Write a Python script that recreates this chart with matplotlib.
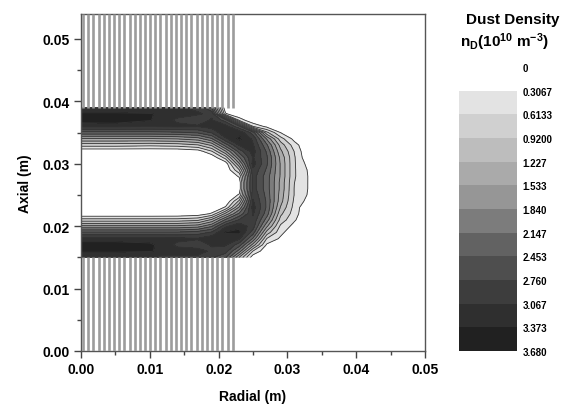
import numpy as np
import matplotlib.pyplot as plt
from matplotlib.colors import ListedColormap, BoundaryNorm

plt.rcParams['font.family'] = 'Liberation Sans'
plt.rcParams['font.weight'] = 'bold'
plt.rcParams['mathtext.fontset'] = 'custom'
plt.rcParams['mathtext.rm'] = 'Liberation Sans:bold'
plt.rcParams['mathtext.default'] = 'rm'

# grid (m)
radial = [0.000, 0.005, 0.010, 0.014, 0.017, 0.019, 0.021, 0.023, 0.025, 0.027, 0.029, 0.031, 0.033, 0.035]
axial = [0.015, 0.016, 0.017, 0.018, 0.019, 0.020, 0.021, 0.022, 0.023, 0.024, 0.025, 0.026,
         0.027, 0.028, 0.029, 0.030, 0.031, 0.032, 0.033, 0.034, 0.035, 0.036, 0.037, 0.038, 0.039]

# dust density (1e10 m^-3), one row per axial value
density = [
    [3.00, 3.00, 3.00, 3.00, 3.00, 2.80, 2.50, 1.20, 0.10, 0.00, 0.00, 0.00, 0.00, 0.0],
    [3.45, 3.45, 3.40, 3.20, 3.20, 3.00, 2.90, 2.00, 0.60, 0.05, 0.00, 0.00, 0.00, 0.0],
    [3.55, 3.55, 3.45, 3.00, 2.90, 3.10, 3.10, 2.60, 1.40, 0.25, 0.05, 0.00, 0.00, 0.0],
    [3.20, 3.20, 3.20, 3.15, 3.10, 3.30, 3.25, 3.10, 2.10, 0.60, 0.25, 0.00, 0.00, 0.0],
    [2.50, 2.50, 2.50, 2.50, 2.60, 2.80, 3.40, 3.45, 2.60, 1.10, 0.40, 0.05, 0.00, 0.0],
    [1.60, 1.60, 1.60, 1.60, 1.70, 2.10, 3.00, 3.30, 2.90, 1.60, 0.55, 0.20, 0.00, 0.0],
    [0.75, 0.75, 0.75, 0.75, 0.85, 1.30, 2.20, 2.80, 3.00, 2.00, 0.80, 0.35, 0.00, 0.0],
    [0.00, 0.00, 0.00, 0.02, 0.10, 0.35, 1.30, 2.20, 3.10, 2.30, 1.00, 0.45, 0.00, 0.0],
    [0.00, 0.00, 0.00, 0.00, 0.00, 0.00, 0.35, 1.60, 3.20, 2.40, 1.20, 0.50, 0.00, 0.0],
    [0.00, 0.00, 0.00, 0.00, 0.00, 0.00, 0.00, 1.00, 3.10, 2.40, 1.35, 0.55, 0.20, 0.0],
    [0.00, 0.00, 0.00, 0.00, 0.00, 0.00, 0.00, 0.35, 3.00, 2.35, 1.40, 0.60, 0.28, 0.0],
    [0.00, 0.00, 0.00, 0.00, 0.00, 0.00, 0.00, 0.10, 2.90, 2.30, 1.45, 0.60, 0.30, 0.0],
    [0.00, 0.00, 0.00, 0.00, 0.00, 0.00, 0.00, 0.10, 2.90, 2.30, 1.45, 0.62, 0.30, 0.0],
    [0.00, 0.00, 0.00, 0.00, 0.00, 0.00, 0.00, 0.35, 2.90, 2.30, 1.50, 0.65, 0.30, 0.0],
    [0.00, 0.00, 0.00, 0.00, 0.00, 0.00, 0.00, 0.90, 3.00, 2.40, 1.50, 0.65, 0.28, 0.0],
    [0.00, 0.00, 0.00, 0.00, 0.00, 0.00, 0.10, 1.50, 3.20, 2.50, 1.50, 0.65, 0.20, 0.0],
    [0.00, 0.00, 0.00, 0.00, 0.00, 0.05, 0.75, 2.10, 3.10, 2.50, 1.45, 0.65, 0.05, 0.0],
    [0.05, 0.05, 0.05, 0.05, 0.15, 0.60, 1.50, 2.60, 3.20, 2.40, 1.30, 0.60, 0.00, 0.0],
    [0.75, 0.75, 0.70, 0.75, 0.90, 1.30, 2.30, 3.10, 3.10, 2.20, 1.10, 0.45, 0.00, 0.0],
    [1.50, 1.50, 1.50, 1.55, 1.70, 2.10, 3.00, 3.45, 3.00, 1.80, 0.75, 0.20, 0.00, 0.0],
    [2.35, 2.35, 2.35, 2.40, 2.50, 2.80, 3.35, 3.30, 2.60, 1.00, 0.30, 0.00, 0.00, 0.0],
    [3.15, 3.15, 3.10, 3.15, 3.10, 3.20, 3.20, 2.50, 0.60, 0.20, 0.00, 0.00, 0.00, 0.0],
    [3.55, 3.60, 3.40, 3.00, 2.90, 3.10, 2.60, 0.50, 0.00, 0.00, 0.00, 0.00, 0.00, 0.0],
    [3.45, 3.45, 3.40, 3.20, 3.10, 3.00, 0.35, 0.00, 0.00, 0.00, 0.00, 0.00, 0.00, 0.0],
    [3.00, 3.00, 3.00, 3.10, 3.00, 2.40, 0.00, 0.00, 0.00, 0.00, 0.00, 0.00, 0.00, 0.0],
]

levels = [0, 0.3067, 0.6133, 0.9200, 1.227, 1.533, 1.840, 2.147, 2.453, 2.760, 3.067, 3.373, 3.680]
level_labels = ['0', '0.3067', '0.6133', '0.9200', '1.227', '1.533', '1.840',
                '2.147', '2.453', '2.760', '3.067', '3.373', '3.680']
grays = ['#ffffff', '#e3e3e3', '#d0d0d0', '#bdbdbd', '#aaaaaa', '#969696', '#7c7c7c',
         '#626262', '#4e4e4e', '#3d3d3d', '#2f2f2f', '#212121']

# electrodes
electrode_r = 0.0225
lower_top = 0.015
upper_bottom = 0.039

fig = plt.figure(figsize=(5.69, 4.10), dpi=100)
ax = fig.add_axes([0.1424, 0.1415, 0.6046, 0.822])

cmap = ListedColormap(grays)
norm = BoundaryNorm(levels, cmap.N)
X, Y = np.meshgrid(radial, axial)
Z = np.array(density)
cf = ax.contourf(X, Y, Z, levels=levels, cmap=cmap, norm=norm)
ax.contour(X, Y, Z, levels=levels[1:-1], colors='#333333', linewidths=0.6)

stripes = np.arange(0.0003, electrode_r, 0.00075)
ax.vlines(stripes, 0, lower_top, color='#9c9c9c', lw=1.9, zorder=3)
ax.vlines(stripes, upper_bottom, 0.054, color='#9c9c9c', lw=1.9, zorder=3)

ax.set_xlim(0, 0.05)
ax.set_ylim(0, 0.054)
ax.set_xticks(np.arange(0, 0.051, 0.01))
ax.set_yticks(np.arange(0, 0.051, 0.01))
ax.set_xticks(np.arange(0, 0.051, 0.005), minor=True)
ax.set_yticks(np.arange(0, 0.054, 0.005), minor=True)
ax.xaxis.set_major_formatter(plt.FormatStrFormatter('%.2f'))
ax.yaxis.set_major_formatter(plt.FormatStrFormatter('%.2f'))
ax.tick_params(which='major', length=5, width=1, color='#444444', labelsize=10, pad=3)
ax.tick_params(which='minor', length=3, width=1, color='#444444')
for s in ax.spines.values():
    s.set_color('#555555')
    s.set_linewidth(1)
ax.set_xlabel('Radial (m)', fontsize=10, fontweight='bold', labelpad=9)
ax.set_ylabel('Axial (m)', fontsize=10, fontweight='bold', labelpad=8)

cax = fig.add_axes([0.8067, 0.1415, 0.102, 0.6925])
cb = fig.colorbar(cf, cax=cax, ticks=levels)
cb.ax.set_yticklabels(level_labels)
cb.ax.invert_yaxis()
cb.outline.set_visible(False)
cb.ax.tick_params(length=0, labelsize=7, pad=4)

fig.text(0.902, 0.951, 'Dust Density', ha='center', va='center', fontsize=11, fontweight='bold')
fig.text(0.887, 0.898, r'n$_{D}$(10$^{10}$ m$^{-3}$)', ha='center', va='center',
         fontsize=11, fontweight='bold')

fig.savefig('out.png', dpi=100)
